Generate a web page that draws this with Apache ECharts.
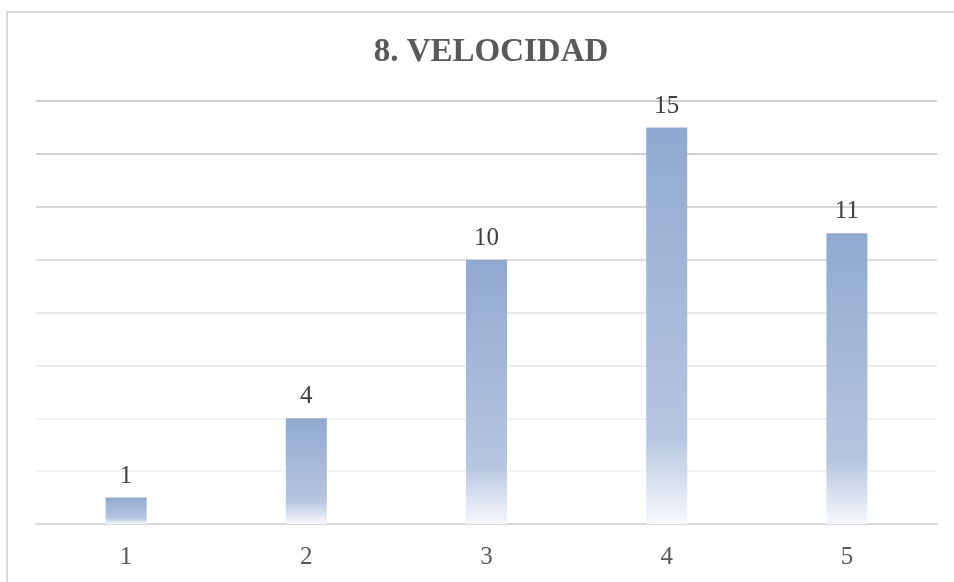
<!DOCTYPE html>
<html>
<head>
<meta charset="utf-8">
<script src="https://cdn.jsdelivr.net/npm/echarts@6/dist/echarts.min.js"></script>
<style>html,body{margin:0;padding:0;background:#fff}#c{width:954px;height:582px}</style>
</head>
<body>
<div id="c"></div>
<script>
const titleText = '8. VELOCIDAD';
const categories = ['1', '2', '3', '4', '5'];
const values = [1, 4, 10, 15, 11];
const yMin = 0, yMax = 16, yInterval = 2;

const chart = echarts.init(document.getElementById('c'));
const serif = '"Liberation Serif", "DejaVu Serif", serif';
chart.setOption({
  animation: false,
  backgroundColor: '#ffffff',
  title: {
    text: titleText,
    left: 486,
    textAlign: 'center',
    top: 31,
    textStyle: { fontFamily: serif, fontSize: 33, fontWeight: 'bold', color: '#595959' }
  },
  graphic: [{
    type: 'rect',
    shape: { x: 7, y: 12, width: 960, height: 590 },
    style: { fill: 'none', stroke: '#d9d9d9', lineWidth: 2 },
    silent: true
  }],
  grid: { left: 36, right: 17, top: 101, bottom: 58 },
  xAxis: {
    type: 'category',
    data: categories,
    axisTick: { show: false },
    axisLine: { lineStyle: { color: '#d9d9d9', width: 2 } },
    axisLabel: { fontFamily: serif, fontSize: 25, color: '#595959', margin: 21 }
  },
  yAxis: {
    type: 'value',
    min: yMin, max: yMax, interval: yInterval,
    axisLabel: { show: false },
    axisLine: { show: false },
    axisTick: { show: false },
    splitLine: {
      lineStyle: {
        width: 1.5,
        color: ['#d9d9d9', '#f0f0f0', '#ececec', '#e6e6e6', '#e0e0e0', '#d4d4d4', '#c8c8c8', '#c0c0c0', '#bcbcbc']
      }
    }
  },
  series: [{
    type: 'bar',
    data: values,
    barWidth: 41,
    itemStyle: {
      color: new echarts.graphic.LinearGradient(0, 0, 0, 1, [
        { offset: 0, color: '#91a8d0' },
        { offset: 0.78, color: '#b6c6e0' },
        { offset: 1, color: '#f7f8fc' }
      ])
    },
    label: {
      show: true,
      position: 'top',
      distance: 9,
      fontFamily: serif,
      fontSize: 25,
      color: '#404040'
    }
  }]
});
</script>
</body>
</html>
